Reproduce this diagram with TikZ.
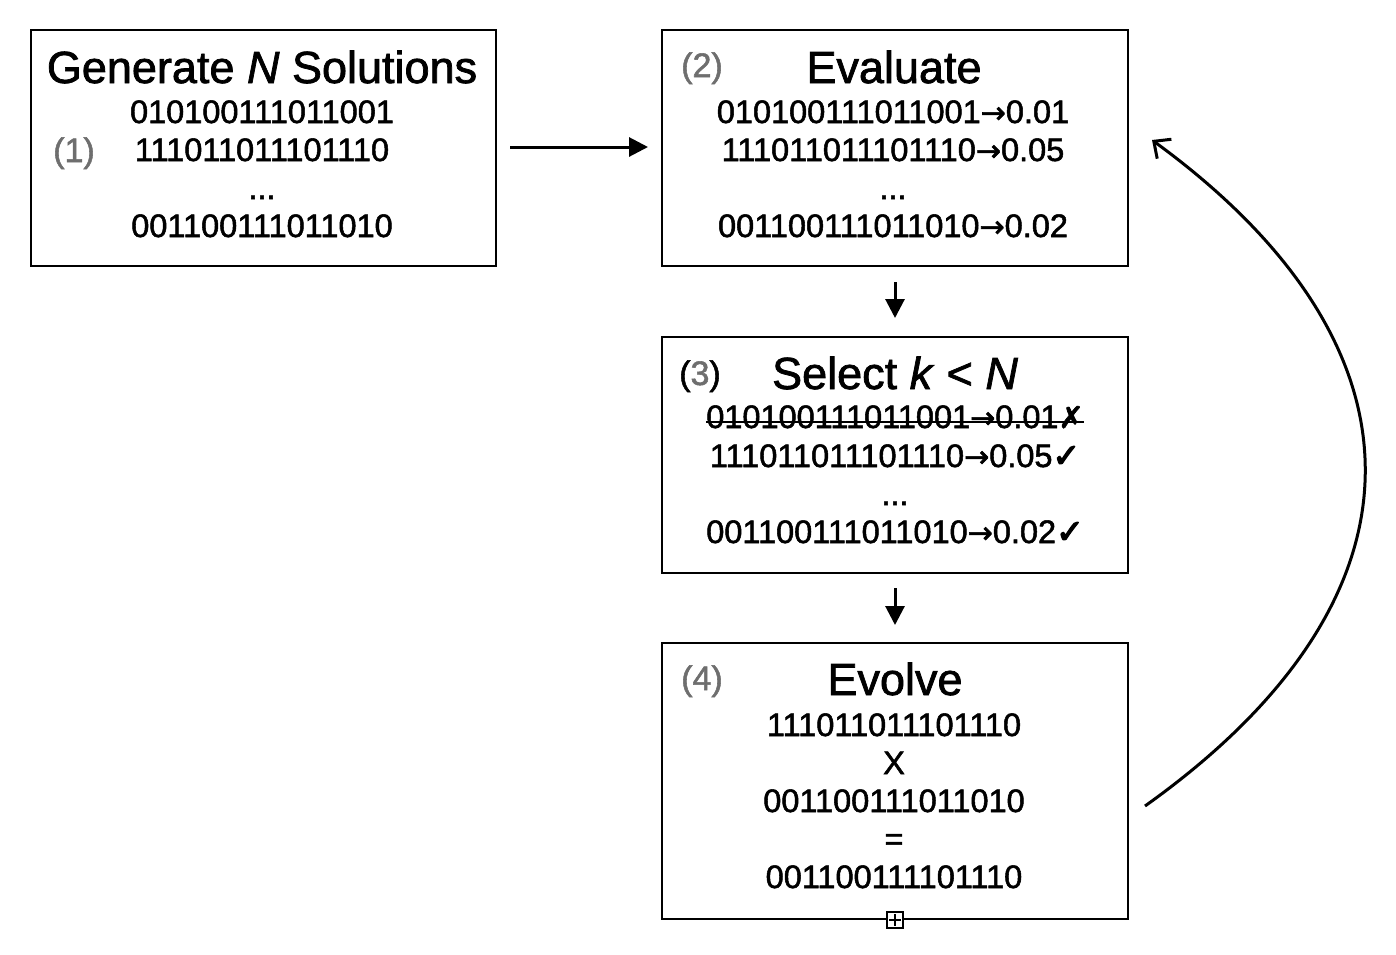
\documentclass[tikz,border=0pt]{standalone}
\usepackage{fontspec}
\setmainfont{Liberation Sans}[FakeBold=1.6]
\newfontfamily\symfont{DejaVu Sans}[FakeBold=2]
\newfontfamily\chkfont{DejaVu Sans}[FakeBold=4]
\usetikzlibrary{arrows.meta}
\definecolor{lblgray}{RGB}{110,110,110}
\newcommand{\titlefont}{\fontsize{45}{54}\selectfont}
\newcommand{\bitfont}{\fontsize{32.5}{38}\selectfont}
\newcommand{\lblfont}{\fontsize{34}{40}\selectfont}
\newcommand{\arr}{{\symfont\fontsize{30}{30}\selectfont →}}
\newcommand{\ok}{{\chkfont\fontsize{33}{30}\selectfont ✓}}
\newcommand{\nok}{{\symfont\fontsize{30}{30}\selectfont ✗}}
\begin{document}
\begin{tikzpicture}[x=1pt,y=-1pt,
  box/.style={draw, line width=2pt, anchor=north west, inner sep=0pt, minimum width=466pt},
  ttl/.style={anchor=base, inner sep=0pt, font=\titlefont},
  bits/.style={anchor=base, inner sep=0pt, font=\bitfont},
  lbl/.style={anchor=base, inner sep=0pt, font=\lblfont, text=lblgray},
  flow/.style={line width=3pt, -{Triangle[length=19pt,width=19pt]}},
  loop/.style={line width=3pt, -{Straight Barb[length=13pt,width=24pt,line width=3pt]}}]
\useasboundingbox (0,0) rectangle (1396,954);

% boxes
\node[box, minimum width=465pt, minimum height=236pt] (b1) at (30,29) {};
\node[box, minimum height=236pt] (b2) at (661,29) {};
\node[box, minimum height=236pt] (b3) at (661,336) {};
\node[box, minimum height=276pt] (b4) at (661,642) {};

% box 1
\node[ttl] (t1) at (262,83) {Generate \textit{N} Solutions};
\node[lbl] (l1) at (74,162) {(1)};
\node[bits] (a1) at (262,123) {010100111011001};
\node[bits] (a2) at (262,161) {111011011101110};
\node[bits] (a3) at (262,199) {...};
\node[bits] (a4) at (262,237) {001100111011010};

% box 2
\node[ttl] (t2) at (894,83) {Evaluate};
\node[lbl] (l2) at (702,77) {(2)};
\node[bits] (e1) at (893,123) {010100111011001\arr0.01};
\node[bits] (e2) at (893,161) {111011011101110\arr0.05};
\node[bits] (e3) at (893,199) {...};
\node[bits] (e4) at (893,237) {001100111011010\arr0.02};

% box 3
\node[ttl] (t3) at (895,389) {Select \textit{k} < \textit{N}};
\node[lbl, text=black] (l3) at (700,385) {(\textcolor{lblgray}{3})};
\node[bits] (s1) at (895,428) {010100111011001\arr0.01\nok};
\node[bits] (s2) at (895,467) {111011011101110\arr0.05\ok};
\node[bits] (s3) at (895,505) {...};
\node[bits] (s4) at (895,543) {001100111011010\arr0.02\ok};
\draw[line width=1.5pt] ([yshift=6pt]s1.base west) -- ([yshift=6pt]s1.base east);

% box 4
\node[ttl] (t4) at (895,695) {Evolve};
\node[lbl] (l4) at (702,690) {(4)};
\node[bits] (v1) at (894,736) {111011011101110};
\node[bits] (v2) at (894,774) {X};
\node[bits] (v3) at (894,812) {001100111011010};
\node[bits] (v4) at (894,850) {=};
\node[bits] (v5) at (894,888) {001100111101110};

% handle
\node[draw, fill=white, line width=1.5pt, minimum size=16pt, inner sep=0pt] (hdl) at (b4.south) {};
\draw[line width=1.5pt] ([yshift=-3pt]hdl.north) -- ([yshift=3pt]hdl.south);
\draw[line width=1.5pt] ([xshift=3pt]hdl.west) -- ([xshift=-3pt]hdl.east);

% connectors
\draw[flow, shorten <=13pt, shorten >=13pt] (b1.east |- 0,147) -- (b2.west |- 0,147);
\draw[flow, shorten <=15pt, shorten >=18pt] (b2.south) -- (b3.north);
\draw[flow, shorten <=14pt, shorten >=17pt] (b3.south) -- (b4.north);
\coordinate (cs) at (1145,806);
\coordinate (ce) at (1152,140);
\draw[loop] (cs) .. controls (1437,598) and (1437,348) .. (ce);
\end{tikzpicture}
\end{document}
